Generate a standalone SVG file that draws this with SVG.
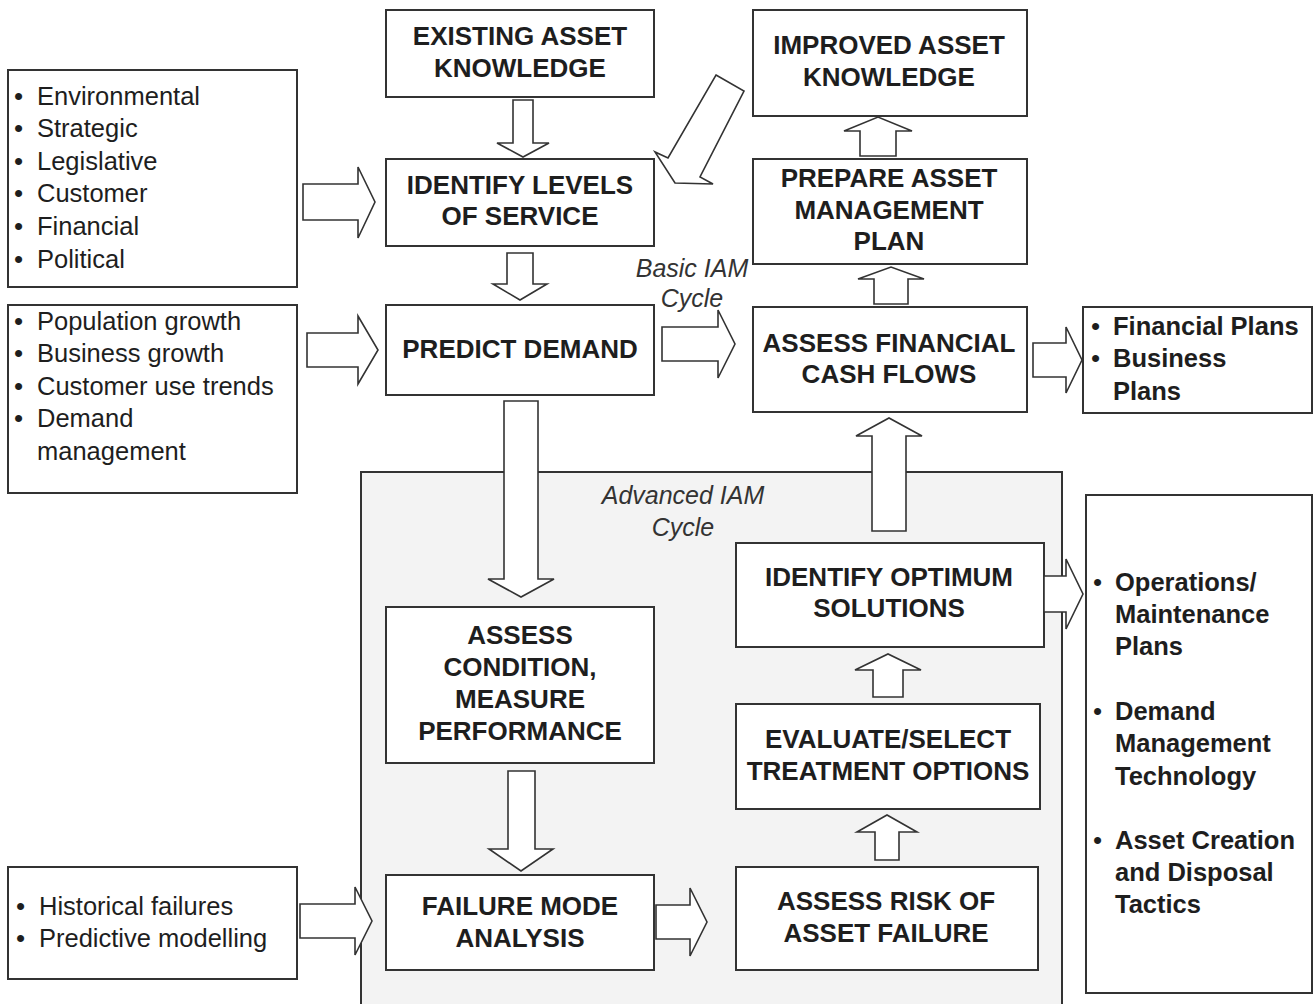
<svg xmlns="http://www.w3.org/2000/svg" width="1315" height="1004" viewBox="0 0 1315 1004">
<style>
.box{fill:#ffffff;stroke:#333;stroke-width:2}
.cont{fill:#f3f3f3;stroke:#333;stroke-width:2}
.arr{fill:#ffffff;stroke:#333;stroke-width:1.6;stroke-linejoin:miter}
.t{font-family:"Liberation Sans",Arial,sans-serif;font-weight:bold;font-size:26px;fill:#1e1e1e;text-anchor:middle}
.l{font-family:"Liberation Sans",Arial,sans-serif;font-size:25.5px;fill:#1e1e1e}
.lb{font-family:"Liberation Sans",Arial,sans-serif;font-size:25.5px;font-weight:bold;fill:#1e1e1e}
.b{font-family:"Liberation Sans",Arial,sans-serif;font-size:26px;fill:#1e1e1e}
.i{font-family:"Liberation Sans",Arial,sans-serif;font-style:italic;font-size:25px;fill:#333;text-anchor:middle}
</style>
<rect width="1315" height="1004" fill="#ffffff"/>
<g id="advanced-cycle">
<rect class="cont" x="361" y="472" width="701" height="540"/>
<text class="i" x="683" y="504">Advanced IAM</text>
<text class="i" x="683" y="536">Cycle</text>
</g>
<g id="basic-label">
<text class="i" x="692" y="277">Basic IAM</text>
<text class="i" x="692" y="307">Cycle</text>
</g>
<g id="drivers">
<rect class="box" x="8" y="70" width="289" height="217"/>
<text class="b" x="14" y="105">•</text><text class="l" x="37" y="105">Environmental</text>
<text class="b" x="14" y="137">•</text><text class="l" x="37" y="137">Strategic</text>
<text class="b" x="14" y="170">•</text><text class="l" x="37" y="170">Legislative</text>
<text class="b" x="14" y="202">•</text><text class="l" x="37" y="202">Customer</text>
<text class="b" x="14" y="235">•</text><text class="l" x="37" y="235">Financial</text>
<text class="b" x="14" y="268">•</text><text class="l" x="37" y="268">Political</text>
</g>
<g id="growth">
<rect class="box" x="8" y="305" width="289" height="188"/>
<text class="b" x="14" y="330">•</text><text class="l" x="37" y="330">Population growth</text>
<text class="b" x="14" y="362">•</text><text class="l" x="37" y="362">Business growth</text>
<text class="b" x="14" y="395">•</text><text class="l" x="37" y="395">Customer use trends</text>
<text class="b" x="14" y="427">•</text><text class="l" x="37" y="427">Demand</text>
<text class="l" x="37" y="460">management</text>
</g>
<g id="failures">
<rect class="box" x="8" y="867" width="289" height="112"/>
<text class="b" x="16" y="915">•</text><text class="l" x="39" y="915">Historical failures</text>
<text class="b" x="16" y="947">•</text><text class="l" x="39" y="947">Predictive modelling</text>
</g>
<g id="existing">
<rect class="box" x="386" y="10" width="268" height="87"/>
<text class="t" x="520" y="45">EXISTING ASSET</text>
<text class="t" x="520" y="77">KNOWLEDGE</text>
</g>
<g id="identify-levels">
<rect class="box" x="386" y="159" width="268" height="87"/>
<text class="t" x="520" y="194">IDENTIFY LEVELS</text>
<text class="t" x="520" y="225">OF SERVICE</text>
</g>
<g id="predict">
<rect class="box" x="386" y="305" width="268" height="90"/>
<text class="t" x="520" y="358">PREDICT DEMAND</text>
</g>
<g id="improved">
<rect class="box" x="753" y="10" width="274" height="106"/>
<text class="t" x="889" y="54">IMPROVED ASSET</text>
<text class="t" x="889" y="86">KNOWLEDGE</text>
</g>
<g id="prepare">
<rect class="box" x="753" y="159" width="274" height="105"/>
<text class="t" x="889" y="187">PREPARE ASSET</text>
<text class="t" x="889" y="219">MANAGEMENT</text>
<text class="t" x="889" y="250">PLAN</text>
</g>
<g id="financial">
<rect class="box" x="753" y="307" width="274" height="105"/>
<text class="t" x="889" y="352">ASSESS FINANCIAL</text>
<text class="t" x="889" y="383">CASH FLOWS</text>
</g>
<g id="plans">
<rect class="box" x="1083" y="307" width="229" height="106"/>
<text class="b" x="1091" y="335">•</text><text class="lb" x="1113" y="335">Financial Plans</text>
<text class="b" x="1091" y="367">•</text><text class="lb" x="1113" y="367">Business</text>
<text class="lb" x="1113" y="400">Plans</text>
</g>
<g id="optimum">
<rect class="box" x="736" y="543" width="308" height="104"/>
<text class="t" x="889" y="586">IDENTIFY OPTIMUM</text>
<text class="t" x="889" y="617">SOLUTIONS</text>
</g>
<g id="outputs">
<rect class="box" x="1086" y="495" width="226" height="498"/>
<text class="b" x="1093" y="591">•</text><text class="lb" x="1115" y="591">Operations/</text>
<text class="lb" x="1115" y="623">Maintenance</text>
<text class="lb" x="1115" y="655">Plans</text>
<text class="b" x="1093" y="720">•</text><text class="lb" x="1115" y="720">Demand</text>
<text class="lb" x="1115" y="752">Management</text>
<text class="lb" x="1115" y="785">Technology</text>
<text class="b" x="1093" y="849">•</text><text class="lb" x="1115" y="849">Asset Creation</text>
<text class="lb" x="1115" y="881">and Disposal</text>
<text class="lb" x="1115" y="913">Tactics</text>
</g>
<g id="condition">
<rect class="box" x="386" y="607" width="268" height="156"/>
<text class="t" x="520" y="644">ASSESS</text>
<text class="t" x="520" y="676">CONDITION,</text>
<text class="t" x="520" y="708">MEASURE</text>
<text class="t" x="520" y="740">PERFORMANCE</text>
</g>
<g id="evaluate">
<rect class="box" x="736" y="704" width="304" height="105"/>
<text class="t" x="888" y="748">EVALUATE/SELECT</text>
<text class="t" x="888" y="780">TREATMENT OPTIONS</text>
</g>
<g id="failure-mode">
<rect class="box" x="386" y="875" width="268" height="95"/>
<text class="t" x="520" y="915">FAILURE MODE</text>
<text class="t" x="520" y="947">ANALYSIS</text>
</g>
<g id="risk">
<rect class="box" x="736" y="867" width="302" height="103"/>
<text class="t" x="886" y="910">ASSESS RISK OF</text>
<text class="t" x="886" y="942">ASSET FAILURE</text>
</g>
<g id="connectors">
<polygon class="arr" points="303,184 358,184 358,167 375,202 358,238 358,220 303,220"/>
<polygon class="arr" points="307,333 358,333 358,316 378,350 358,384 358,367 307,367"/>
<polygon class="arr" points="662,327 718,327 718,310 735,344 718,378 718,361 662,361"/>
<polygon class="arr" points="1033,343 1066,343 1066,327 1082,360 1066,393 1066,377 1033,377"/>
<polygon class="arr" points="1044,576 1066,576 1066,559 1083,594 1066,629 1066,612 1044,612"/>
<polygon class="arr" points="300,904 355,904 355,887 372,921 355,955 355,938 300,938"/>
<polygon class="arr" points="656,905 690,905 690,888 707,922 690,956 690,939 656,939"/>
<polygon class="arr" points="513,100 533,100 533,143 549,143 523,157 497,143 513,143"/>
<polygon class="arr" points="507,253 533,253 533,284 547,284 520,300 493,284 507,284"/>
<polygon class="arr" points="504,401 538,401 538,579 554,579 521,597 488,579 504,579"/>
<polygon class="arr" points="508,771 535,771 535,849 553,849 521,871 489,849 508,849"/>
<polygon class="arr" points="875,860 899,860 899,832 917,832 887,815 857,832 875,832"/>
<polygon class="arr" points="873,697 903,697 903,670 921,670 888,654 855,670 873,670"/>
<polygon class="arr" points="872,531 906,531 906,436 922,436 889,418 856,436 872,436"/>
<polygon class="arr" points="874,304 908,304 908,279 924,279 891,267 858,279 874,279"/>
<polygon class="arr" points="860,156 896,156 896,131 912,131 878,117 844,131 860,131"/>
<polygon class="arr" points="716,75 744,91 700,177 713,184 675,183 655,152 668,158"/>
</g>
</svg>
